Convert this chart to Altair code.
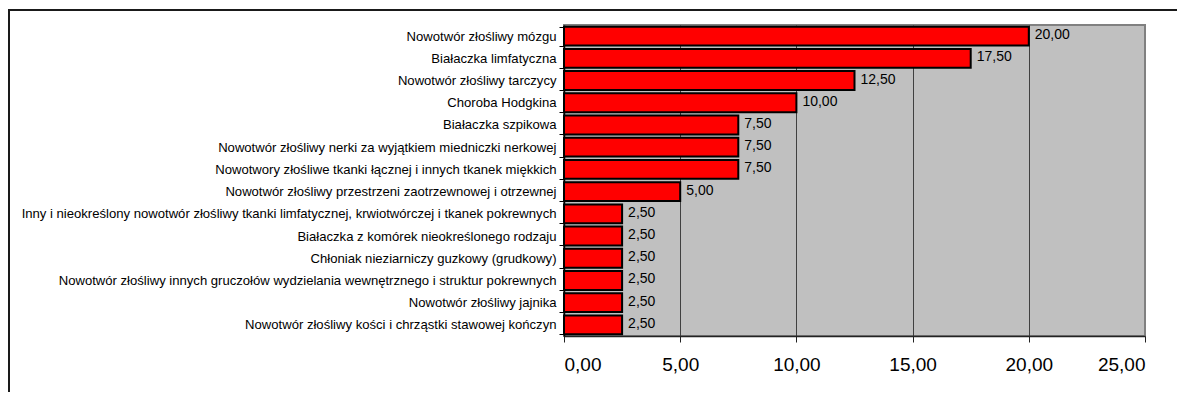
import altair as alt
import pandas as pd

categories = [
    "Nowotwór złośliwy mózgu",
    "Białaczka limfatyczna",
    "Nowotwór złośliwy tarczycy",
    "Choroba Hodgkina",
    "Białaczka szpikowa",
    "Nowotwór złośliwy nerki za wyjątkiem miedniczki nerkowej",
    "Nowotwory złośliwe tkanki łącznej i innych tkanek miękkich",
    "Nowotwór złośliwy przestrzeni zaotrzewnowej i otrzewnej",
    "Inny i nieokreślony nowotwór złośliwy tkanki limfatycznej, krwiotwórczej i tkanek pokrewnych",
    "Białaczka z komórek nieokreślonego rodzaju",
    "Chłoniak nieziarniczy guzkowy (grudkowy)",
    "Nowotwór złośliwy innych gruczołów wydzielania wewnętrznego i struktur pokrewnych",
    "Nowotwór złośliwy jajnika",
    "Nowotwór złośliwy kości i chrząstki stawowej kończyn",
]
values = [20.0, 17.5, 12.5, 10.0, 7.5, 7.5, 7.5, 5.0, 2.5, 2.5, 2.5, 2.5, 2.5, 2.5]
x_ticks = [0, 5, 10, 15, 20, 25]

df = pd.DataFrame({"cat": categories, "val": values})
df["label"] = [f"{v:.2f}".replace(".", ",") for v in values]

FONT = "Liberation Sans"

y_enc = alt.Y(
    "cat:N",
    sort=categories,
    title=None,
    scale=alt.Scale(paddingInner=0.15, paddingOuter=0.075),
    axis=alt.Axis(
        domainColor="black",
        domainWidth=1.5,
        tickColor="black",
        tickSize=5,
        tickBand="extent",
        labelFont=FONT,
        labelFontSize=13.1,
        labelColor="black",
        labelPadding=3,
        labelLimit=0,
        grid=False,
    ),
)

x_enc = alt.X(
    "val:Q",
    title=None,
    scale=alt.Scale(domain=[0, 25], nice=False),
    axis=alt.Axis(
        values=x_ticks,
        labelExpr="replace(format(datum.value, '.2f'), '.', ',')",
        labelFont=FONT,
        labelFontSize=19,
        labelColor="black",
        labelPadding=13,
        tickSize=6,
        tickColor="#222222",
        domainColor="#222222",
        domainWidth=1.5,
        grid=True,
        gridColor="#404040",
        gridWidth=1,
        gridOpacity={"condition": {"test": "datum.value === 25 || datum.value === 0", "value": 0}, "value": 1},
    ),
)

base = alt.Chart(df)

bars = base.mark_bar(color="#FF0000", stroke="black", strokeWidth=2).encode(x=x_enc, y=y_enc)

texts = base.mark_text(
    align="left", baseline="middle", dx=6, dy=-1, font=FONT, fontSize=14, color="black"
).encode(x="val:Q", y=alt.Y("cat:N", sort=categories), text="label:N")

frame = alt.Chart(pd.DataFrame({"a": [0]})).mark_rect(
    fill=None, fillOpacity=0, stroke="#1a1a1a", strokeWidth=2
).encode(
    x=alt.value(-555), x2=alt.value(800), y=alt.value(-15), y2=alt.value(600)
)

chart = (
    alt.layer(bars, texts, frame)
    .properties(
        width=581,
        height=311,
        autosize=alt.AutoSizeParams(type="none"),
        padding={"left": 556, "top": 17, "right": 32, "bottom": 56},
        background="white",
    )
    .configure_view(fill="#C0C0C0", stroke="#808080", strokeWidth=2)
)

chart.save("out.html", embed_options={"renderer": "svg", "actions": False})
